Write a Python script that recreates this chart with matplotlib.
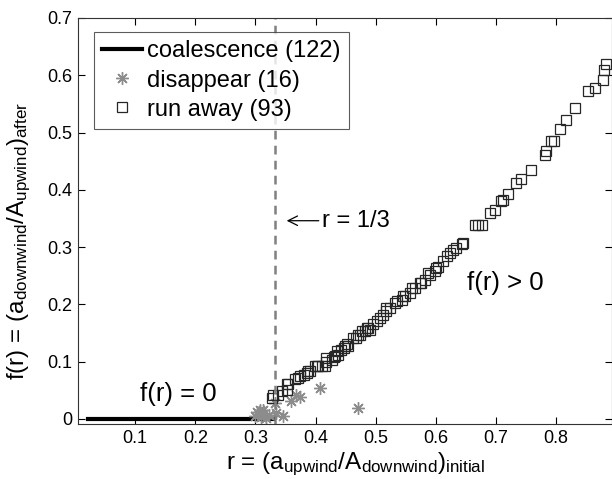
import matplotlib
matplotlib.use("Agg")
import matplotlib.pyplot as plt
from matplotlib.ticker import FuncFormatter

plt.rcParams['font.family'] = ['Liberation Sans', 'DejaVu Sans']
plt.rcParams['mathtext.default'] = 'regular'

# event names and counts shown in the legend
event_names = ['coalescence', 'disappear', 'run away']
event_counts = [122, 16, 93]

# coalescence events: f(r) = 0 over the low-r range
coalescence_r = [0.022, 0.035, 0.05, 0.065, 0.08, 0.1, 0.12, 0.14, 0.16, 0.18,
                 0.2, 0.22, 0.24, 0.26, 0.28, 0.29, 0.3, 0.31, 0.32, 0.33]
coalescence_f = [0.0] * len(coalescence_r)

# disappearing dunes
disappear_r = [0.299, 0.302, 0.307, 0.310, 0.312, 0.313, 0.318, 0.322, 0.333, 0.335,
               0.346, 0.360, 0.368, 0.374, 0.407, 0.471]
disappear_f = [0.005, 0.012, 0.016, 0.004, 0.015, 0.008, 0.002, 0.006, 0.028, 0.010,
               0.005, 0.031, 0.042, 0.039, 0.054, 0.019]

# run-away dunes
runaway_r = [0.327, 0.330, 0.338, 0.345, 0.352, 0.352, 0.355, 0.366, 0.371, 0.374,
             0.380, 0.385, 0.388, 0.391, 0.399, 0.402, 0.404, 0.410, 0.416, 0.418,
             0.418, 0.427, 0.430, 0.432, 0.435, 0.438, 0.443, 0.447, 0.449, 0.452,
             0.454, 0.463, 0.468, 0.471, 0.474, 0.477, 0.482, 0.485, 0.488, 0.490,
             0.496, 0.502, 0.507, 0.512, 0.518, 0.518, 0.524, 0.532, 0.535, 0.543,
             0.546, 0.549, 0.557, 0.560, 0.565, 0.573, 0.576, 0.582, 0.587, 0.590,
             0.598, 0.601, 0.604, 0.612, 0.618, 0.623, 0.629, 0.634, 0.643, 0.645,
             0.665, 0.670, 0.676, 0.690, 0.698, 0.709, 0.712, 0.720, 0.734, 0.742,
             0.759, 0.781, 0.784, 0.792, 0.797, 0.806, 0.817, 0.831, 0.853, 0.864,
             0.878, 0.880, 0.883]
runaway_f = [0.037, 0.042, 0.042, 0.048, 0.051, 0.060, 0.060, 0.069, 0.072, 0.074,
             0.077, 0.080, 0.083, 0.083, 0.092, 0.092, 0.092, 0.093, 0.092, 0.100,
             0.106, 0.103, 0.108, 0.109, 0.118, 0.112, 0.121, 0.124, 0.127, 0.130,
             0.127, 0.141, 0.141, 0.146, 0.147, 0.153, 0.153, 0.159, 0.159, 0.156,
             0.165, 0.170, 0.176, 0.182, 0.188, 0.194, 0.194, 0.202, 0.205, 0.208,
             0.214, 0.214, 0.220, 0.229, 0.229, 0.237, 0.237, 0.243, 0.255, 0.252,
             0.258, 0.264, 0.266, 0.275, 0.284, 0.290, 0.294, 0.298, 0.306, 0.307,
             0.339, 0.339, 0.339, 0.360, 0.365, 0.380, 0.383, 0.392, 0.412, 0.418,
             0.435, 0.461, 0.467, 0.485, 0.485, 0.506, 0.522, 0.543, 0.572, 0.578,
             0.592, 0.610, 0.620]

r_threshold = 1 / 3

labels = [f'{name} ({n})' for name, n in zip(event_names, event_counts)]

fig = plt.figure(figsize=(6.12, 4.79), dpi=100)
ax = fig.add_axes([78 / 612, 1 - 424 / 479, 534 / 612, 406 / 479])

ax.plot(coalescence_r, coalescence_f, color='black', lw=3, label=labels[0])
ax.plot(disappear_r, disappear_f, ls='none', marker=(8, 2, 0), ms=9, mew=1,
        color='0.55', label=labels[1])
ax.plot(runaway_r, runaway_f, ls='none', marker='s', ms=6.8, mew=0.9,
        mfc='none', mec='0.15', label=labels[2])

ax.axvline(r_threshold, color='0.5', ls=(0, (3.5, 2.5)), lw=1.8)
ax.annotate('r = 1/3', xy=(0.352, 0.346), xytext=(0.41, 0.346),
            ha='left', va='center', fontsize=17,
            arrowprops=dict(arrowstyle='->', lw=0.9, color='black',
                            shrinkA=0, shrinkB=0))

ax.text(0.171, 0.044, 'f(r) = 0', fontsize=18.5, ha='center', va='center')
ax.text(0.716, 0.237, 'f(r) > 0', fontsize=18.5, ha='center', va='center')

ax.set_xlim(0.005, 0.893)
ax.set_ylim(-0.009, 0.7)
ax.set_xticks([0.1, 0.2, 0.3, 0.4, 0.5, 0.6, 0.7, 0.8])
ax.set_yticks([0, 0.1, 0.2, 0.3, 0.4, 0.5, 0.6, 0.7])
ax.yaxis.set_major_formatter(FuncFormatter(lambda v, p: f'{v:g}'))
ax.tick_params(direction='in', top=True, right=True, length=5, width=0.8,
               labelsize=13, pad=4)
for sp in ax.spines.values():
    sp.set_linewidth(0.8)
    sp.set_color('0.2')

ax.set_xlabel(r'r = (a$_{upwind}$/A$_{downwind}$)$_{initial}$', fontsize=17.5)
ax.set_ylabel(r'f(r) = (a$_{downwind}$/A$_{upwind}$)$_{after}$', fontsize=17.5)
ax.xaxis.set_label_coords(0.519, -0.066)
ax.yaxis.set_label_coords(-0.085, 0.45)

leg = ax.legend(loc='upper left', bbox_to_anchor=(0.03, 0.965), borderaxespad=0,
                fontsize=17, frameon=True, fancybox=False, edgecolor='0.2',
                handlelength=1.7, handletextpad=0.2, labelspacing=0.3,
                borderpad=0.35)
leg.get_frame().set_linewidth(0.8)

fig.savefig('out.png', dpi=100)
